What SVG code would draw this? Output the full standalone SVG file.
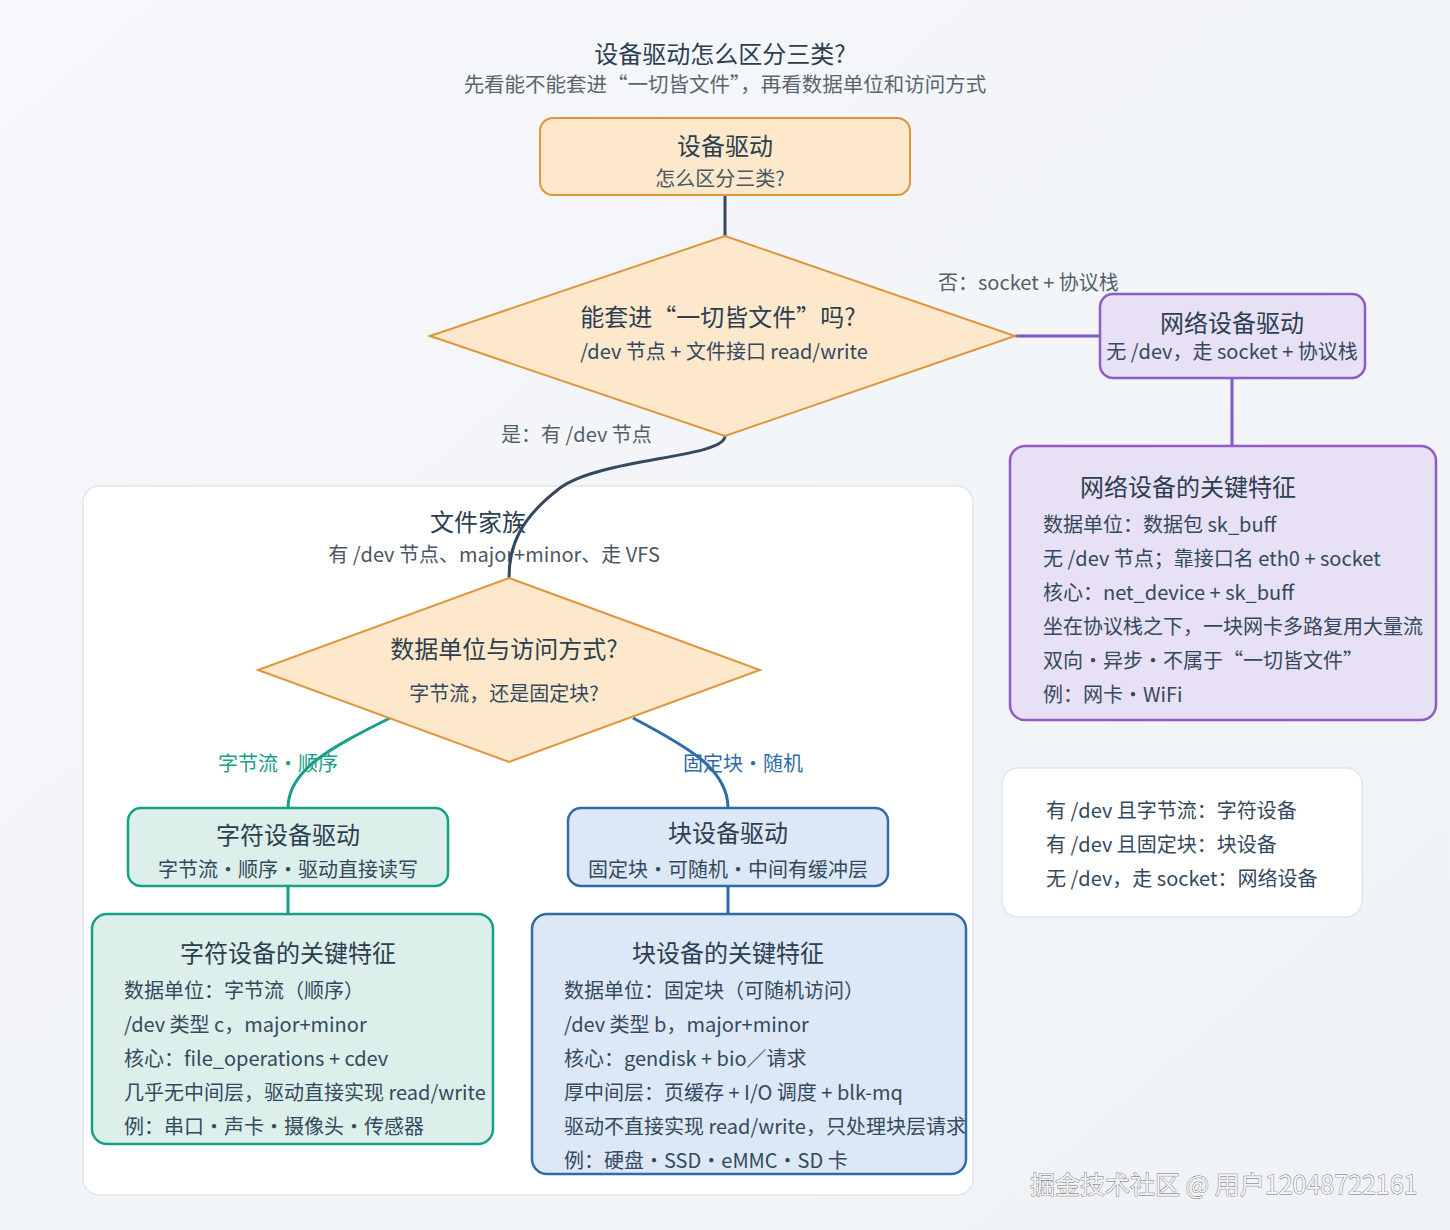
<svg xmlns="http://www.w3.org/2000/svg" width="1450" height="1230" viewBox="0 0 1450 1230">
  <defs>
    <linearGradient id="bg" x1="0" y1="0" x2="1" y2="1">
      <stop offset="0" stop-color="#f6f8fb"/>
      <stop offset="1" stop-color="#eef2f6"/>
    </linearGradient>
  </defs>
  <style>
    text { font-family: "Noto Sans CJK SC", "Noto Sans", sans-serif; fill: #2c3e50; }
    .t { font-size: 24px; text-anchor: middle; }
    .s { font-size: 20px; text-anchor: middle; fill: #4a5663; }
    .l { font-size: 20px; fill: #34495e; }
    .lab { font-size: 20px; fill: #555f6a; }
    .orange { fill: #fde8cc; stroke: #e0953a; stroke-width: 2; }
    .purple { fill: #e8e0f5; stroke: #8e5cc4; stroke-width: 2.5; }
    .teal { fill: #dcefea; stroke: #16a085; stroke-width: 2.5; }
    .blue { fill: #dce8f6; stroke: #2e6ba8; stroke-width: 2.5; }
    .card { fill: #ffffff; stroke: #e1e6ec; stroke-width: 1.5; }
    .c { fill: none; stroke-width: 3; }
  </style>
  <rect width="1450" height="1230" fill="url(#bg)"/>

  <g id="title">
    <text x="720" y="63" class="t">设备驱动怎么区分三类?</text>
    <text x="725" y="92" class="s" style="fill:#5a6570;font-size:20.5px">先看能不能套进“一切皆文件”，再看数据单位和访问方式</text>
  </g>

  <g id="file-family">
    <rect x="83" y="486" width="890" height="709" rx="16" class="card"/>
    <text x="478" y="531" class="t">文件家族</text>
    <text x="494" y="562" class="s">有 /dev 节点、major+minor、走 VFS</text>
  </g>

  <g id="legend">
    <rect x="1002" y="768" width="360" height="149" rx="16" class="card"/>
    <text x="1046" y="818" class="l">有 /dev 且字节流：字符设备</text>
    <text x="1046" y="852" class="l">有 /dev 且固定块：块设备</text>
    <text x="1046" y="886" class="l">无 /dev，走 socket：网络设备</text>
  </g>

  <g id="connectors">
    <line x1="725" y1="195" x2="725" y2="236" class="c" stroke="#34495e"/>
    <line x1="1015" y1="336" x2="1100" y2="336" class="c" stroke="#7e57c2"/>
    <line x1="1232" y1="378" x2="1232" y2="446" class="c" stroke="#7e57c2"/>
    <path d="M725,436 C725,458 600,458 560,488 C518,520 509,548 509,578" class="c" stroke="#34495e"/>
    <path d="M390,718 C330,748 288,770 288,808" class="c" stroke="#16a085"/>
    <path d="M633,718 C690,748 728,770 728,808" class="c" stroke="#2e6ba8"/>
    <line x1="288" y1="886" x2="288" y2="914" class="c" stroke="#16a085"/>
    <line x1="728" y1="886" x2="728" y2="914" class="c" stroke="#2e6ba8"/>
    <text x="938" y="290" class="lab">否：socket + 协议栈</text>
    <text x="501" y="442" class="lab">是：有 /dev 节点</text>
    <text x="218" y="771" class="lab" style="fill:#16a085">字节流・顺序</text>
    <text x="683" y="771" class="lab" style="fill:#2e6ba8">固定块・随机</text>
  </g>

  <g id="start">
    <rect x="540" y="118" width="370" height="77" rx="13" class="orange"/>
    <text x="725" y="155" class="t">设备驱动</text>
    <text x="720" y="186" class="s">怎么区分三类?</text>
  </g>

  <g id="q1">
    <polygon points="725,236 1015,336 725,436 430,336" class="orange"/>
    <text x="718" y="326" class="t">能套进“一切皆文件”吗?</text>
    <text x="724" y="359" class="s" style="fill:#34495e">/dev 节点 + 文件接口 read/write</text>
  </g>

  <g id="net">
    <rect x="1100" y="294" width="265" height="84" rx="13" class="purple"/>
    <text x="1232" y="332" class="t">网络设备驱动</text>
    <text x="1232" y="359" class="s" style="fill:#34495e">无 /dev，走 socket + 协议栈</text>
  </g>

  <g id="net-features">
    <rect x="1010" y="446" width="426" height="274" rx="15" class="purple"/>
    <text x="1080" y="496" class="t" style="text-anchor:start">网络设备的关键特征</text>
    <text x="1043" y="532" class="l">数据单位：数据包 sk_buff</text>
    <text x="1043" y="566" class="l">无 /dev 节点；靠接口名 eth0 + socket</text>
    <text x="1043" y="600" class="l">核心：net_device + sk_buff</text>
    <text x="1043" y="634" class="l">坐在协议栈之下，一块网卡多路复用大量流</text>
    <text x="1043" y="668" class="l">双向・异步・不属于“一切皆文件”</text>
    <text x="1043" y="702" class="l">例：网卡・WiFi</text>
  </g>

  <g id="q2">
    <polygon points="509,578 760,670 509,762 258,670" class="orange"/>
    <text x="504" y="658" class="t">数据单位与访问方式?</text>
    <text x="504" y="701" class="s" style="fill:#34495e">字节流，还是固定块?</text>
  </g>

  <g id="char">
    <rect x="128" y="808" width="320" height="78" rx="13" class="teal"/>
    <text x="288" y="844" class="t">字符设备驱动</text>
    <text x="288" y="877" class="s" style="fill:#34495e">字节流・顺序・驱动直接读写</text>
  </g>

  <g id="char-features">
    <rect x="92" y="914" width="401" height="230" rx="15" class="teal"/>
    <text x="180" y="962" class="t" style="text-anchor:start">字符设备的关键特征</text>
    <text x="124" y="998" class="l">数据单位：字节流（顺序）</text>
    <text x="124" y="1032" class="l">/dev 类型 c，major+minor</text>
    <text x="124" y="1066" class="l">核心：file_operations + cdev</text>
    <text x="124" y="1100" class="l">几乎无中间层，驱动直接实现 read/write</text>
    <text x="124" y="1134" class="l">例：串口・声卡・摄像头・传感器</text>
  </g>

  <g id="block">
    <rect x="568" y="808" width="320" height="78" rx="13" class="blue"/>
    <text x="728" y="842" class="t">块设备驱动</text>
    <text x="728" y="877" class="s" style="fill:#34495e">固定块・可随机・中间有缓冲层</text>
  </g>

  <g id="block-features">
    <rect x="532" y="914" width="434" height="260" rx="15" class="blue"/>
    <text x="632" y="962" class="t" style="text-anchor:start">块设备的关键特征</text>
    <text x="564" y="998" class="l">数据单位：固定块（可随机访问）</text>
    <text x="564" y="1032" class="l">/dev 类型 b，major+minor</text>
    <text x="564" y="1066" class="l">核心：gendisk + bio／请求</text>
    <text x="564" y="1100" class="l">厚中间层：页缓存 + I/O 调度 + blk-mq</text>
    <text x="564" y="1134" class="l">驱动不直接实现 read/write，只处理块层请求</text>
    <text x="564" y="1168" class="l">例：硬盘・SSD・eMMC・SD 卡</text>
  </g>

  <g id="watermark">
    <text x="1030" y="1194" style="font-size:25px;fill:#f4f4f4;stroke:#6b6b6b;stroke-width:0.8;paint-order:stroke">掘金技术社区 @ 用户12048722161</text>
  </g>
</svg>
